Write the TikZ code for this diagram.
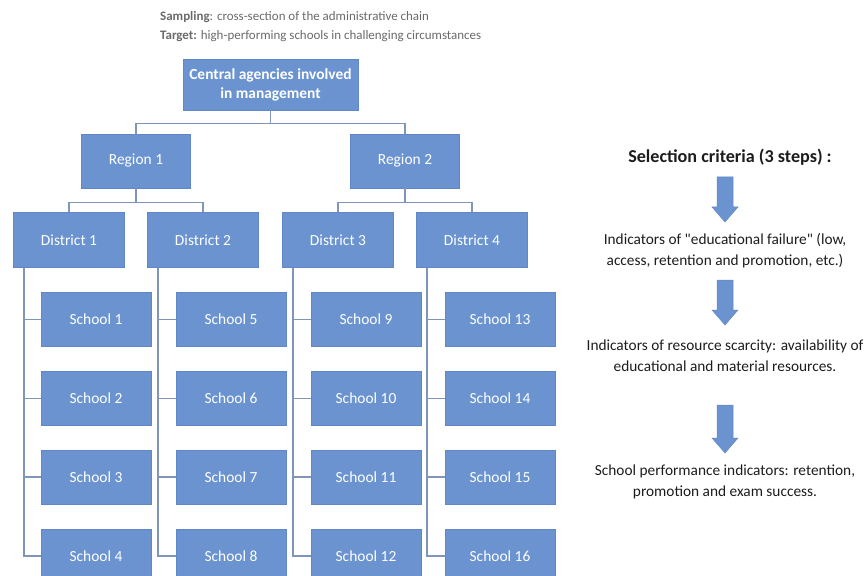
\documentclass[tikz,border=0pt]{standalone}
\usepackage{fontspec}
\setmainfont{Carlito}
\newfontfamily\plainfont{Carlito}
\definecolor{boxblue}{HTML}{6A93D0}
\definecolor{boxedge}{HTML}{6088C8}
\definecolor{linkc}{HTML}{7F95BA}
\definecolor{toptext}{HTML}{6A6A6A}
\definecolor{ctext}{HTML}{1C1C1C}
\tikzset{
  unit/.style={fill=boxblue, draw=boxedge, line width=0.6bp, text=white, align=center,
    font=\fontsize{15.5}{19}\selectfont, inner sep=0pt},
  schoolbox/.style={unit, minimum width=110bp, minimum height=54bp},
  distbox/.style={unit, minimum width=111bp, minimum height=55bp},
  regbox/.style={unit, minimum width=109bp, minimum height=54bp},
  link/.style={draw=linkc, line width=1.4bp},
  crit/.style={text=ctext, align=center, font=\plainfont\fontsize{15.4}{21}\selectfont, inner sep=0pt},
  blockarrow/.style={fill=boxblue, draw=boxedge, line width=0.5bp}
}
\begin{document}
\begin{tikzpicture}[x=1bp,y=-1bp]
\useasboundingbox (0,0) rectangle (868,576);
% header text
\node[anchor=west, text=toptext, font=\fontsize{13}{15}\selectfont, inner sep=0pt] (samp) at (160,17) {\textbf{Sampling}: cross-section of the administrative chain};
\node[anchor=west, text=toptext, font=\fontsize{13}{15}\selectfont, inner sep=0pt] (targ) at (160,36) {\textbf{Target:} high-performing schools in challenging circumstances};
% central
\node[unit, minimum width=175bp, minimum height=51bp, font=\fontsize{15.5}{19}\selectfont\bfseries] (c) at (270.5,84.5) {Central agencies involved\\in management};
% regions
\node[regbox] (r1) at (136,161) {Region 1};
\node[regbox] (r2) at (405,161) {Region 2};
% districts
\node[distbox] (d1) at (69,240) {District 1};
\node[distbox] (d2) at (203,240) {District 2};
\node[distbox] (d3) at (338,240) {District 3};
\node[distbox] (d4) at (472,240) {District 4};
% schools
\foreach \col/\x in {0/96,1/231,2/366,3/500}{
  \foreach \row/\y in {1/319.5,2/398.5,3/477,4/556}{
    \pgfmathtruncatemacro{\n}{\col*4+\row}
    \node[schoolbox] (s\n) at (\x,\y) {School \n};
  }
}
% connectors top
\draw[link] (c.south) -- ++(0,13) -| (r1.north);
\draw[link] (c.south) -- ++(0,13) -| (r2.north);
\draw[link] (r1.south) -- ++(0,14) -| (d1.north);
\draw[link] (r1.south) -- ++(0,14) -| (d2.north);
\draw[link] (r2.south) -- ++(0,14) -| (d3.north);
\draw[link] (r2.south) -- ++(0,14) -| (d4.north);
% spines
\foreach \d/\a/\b/\c/\e in {1/1/2/3/4,2/5/6/7/8,3/9/10/11/12,4/13/14/15/16}{
  \coordinate (sp\d) at ([xshift=-45bp]d\d.south);
  \draw[link] (sp\d) |- (s\e.west);
  \draw[link] (s\a.west) -- (s\a.west -| sp\d);
  \draw[link] (s\b.west) -- (s\b.west -| sp\d);
  \draw[link] (s\c.west) -- (s\c.west -| sp\d);
}
% criteria
\node[text=ctext, font=\fontsize{18.2}{20}\selectfont\bfseries, inner sep=0pt] (sel) at (730,157) {Selection criteria (3 steps) :};
\node[crit] (t1) at (725,251) {Indicators of "educational failure" (low,\\access, retention and promotion, etc.)};
\node[crit] (t2) at (725,355.5) {Indicators of resource scarcity: availability of\\educational and material resources.};
\node[crit] (t3) at (725,482) {School performance indicators: retention,\\promotion and exam success.};
\foreach \top/\tip in {177/222, 280/325, 405/453}{
  \pgfmathsetmacro{\hs}{\tip-15}
  \draw[blockarrow] (717,\top) -- (733,\top) -- (733,\hs) -- (738,\hs) -- (725,\tip) -- (712,\hs) -- (717,\hs) -- cycle;
}
\end{tikzpicture}
\end{document}
